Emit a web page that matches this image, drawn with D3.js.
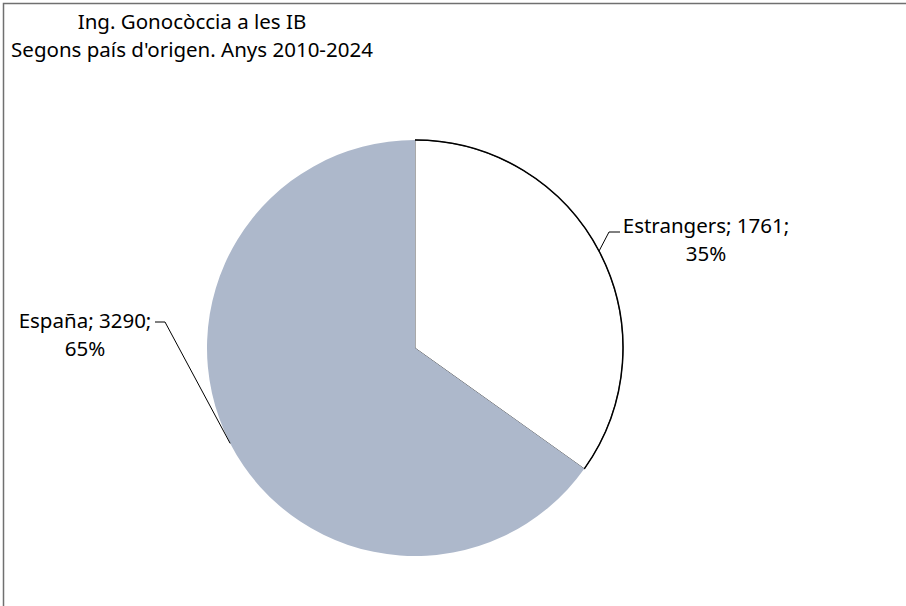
<!DOCTYPE html>
<html><head><meta charset="utf-8">
<script src="https://cdn.jsdelivr.net/npm/d3@7"></script>
<style>body{margin:0;background:#fff}svg{display:block;font-family:"Noto Sans",sans-serif}</style>
</head><body>
<svg id="c" width="906" height="606"></svg>
<script>
const categories = ["Estrangers", "España"];
const values = [1761, 3290];
const percentLabels = ["35%", "65%"];
const titleLines = ["Ing. Gonocòccia a les IB", "Segons país d'origen. Anys 2010-2024"];
const colors = ["#ffffff", "#adb8cb"];

const svg = d3.select("#c");
svg.append("rect").attr("x",3.5).attr("y",3.5).attr("width",1000).attr("height",1000)
  .attr("fill","#fff").attr("stroke","#707070").attr("stroke-width",1.5);

const cx = 415, cy = 348, r = 208;
const pie = d3.pie().sort(null).value(d => d)(values);
const arc = d3.arc().innerRadius(0).outerRadius(r);
const g = svg.append("g").attr("transform",`translate(${cx},${cy})`);
g.selectAll("path.s").data(pie).join("path").attr("class","s")
  .attr("d", arc).attr("fill",(d,i)=>colors[i])
  .attr("stroke",(d,i)=> i===0 ? "#555" : "none").attr("stroke-width",1);
g.append("path").attr("d", d3.arc().innerRadius(r).outerRadius(r)(pie[0]))
  .attr("fill","none").attr("stroke","#000").attr("stroke-width",1.5);

svg.selectAll("text.t").data(titleLines).join("text").attr("class","t")
  .attr("x",192).attr("y",(d,i)=>29+i*28).attr("text-anchor","middle")
  .attr("font-size",20.5).attr("fill","#000").text(d=>d);

const labelInfo = [
  {tx:706, ty:233, anchorEnd:[620,232], knee:[609,232], ang:1.086},
  {tx:85, ty:328, anchorEnd:[155,322], knee:[165,322], ang:4.236}
];
pie.forEach((p,i)=>{
  const L = labelInfo[i];
  const ax = cx + r*Math.sin(L.ang), ay = cy - r*Math.cos(L.ang);
  svg.append("polyline").attr("points",[L.anchorEnd, L.knee, [ax,ay]].map(p=>p.join(",")).join(" "))
    .attr("fill","none").attr("stroke","#000").attr("stroke-width",1);
  const t = svg.append("text").attr("text-anchor","middle").attr("font-size",20.5).attr("fill","#000");
  t.append("tspan").attr("x",L.tx).attr("y",L.ty).text(`${categories[i]}; ${values[i]};`);
  t.append("tspan").attr("x",L.tx).attr("y",L.ty+28).text(percentLabels[i]);
});
</script>
</body></html>
